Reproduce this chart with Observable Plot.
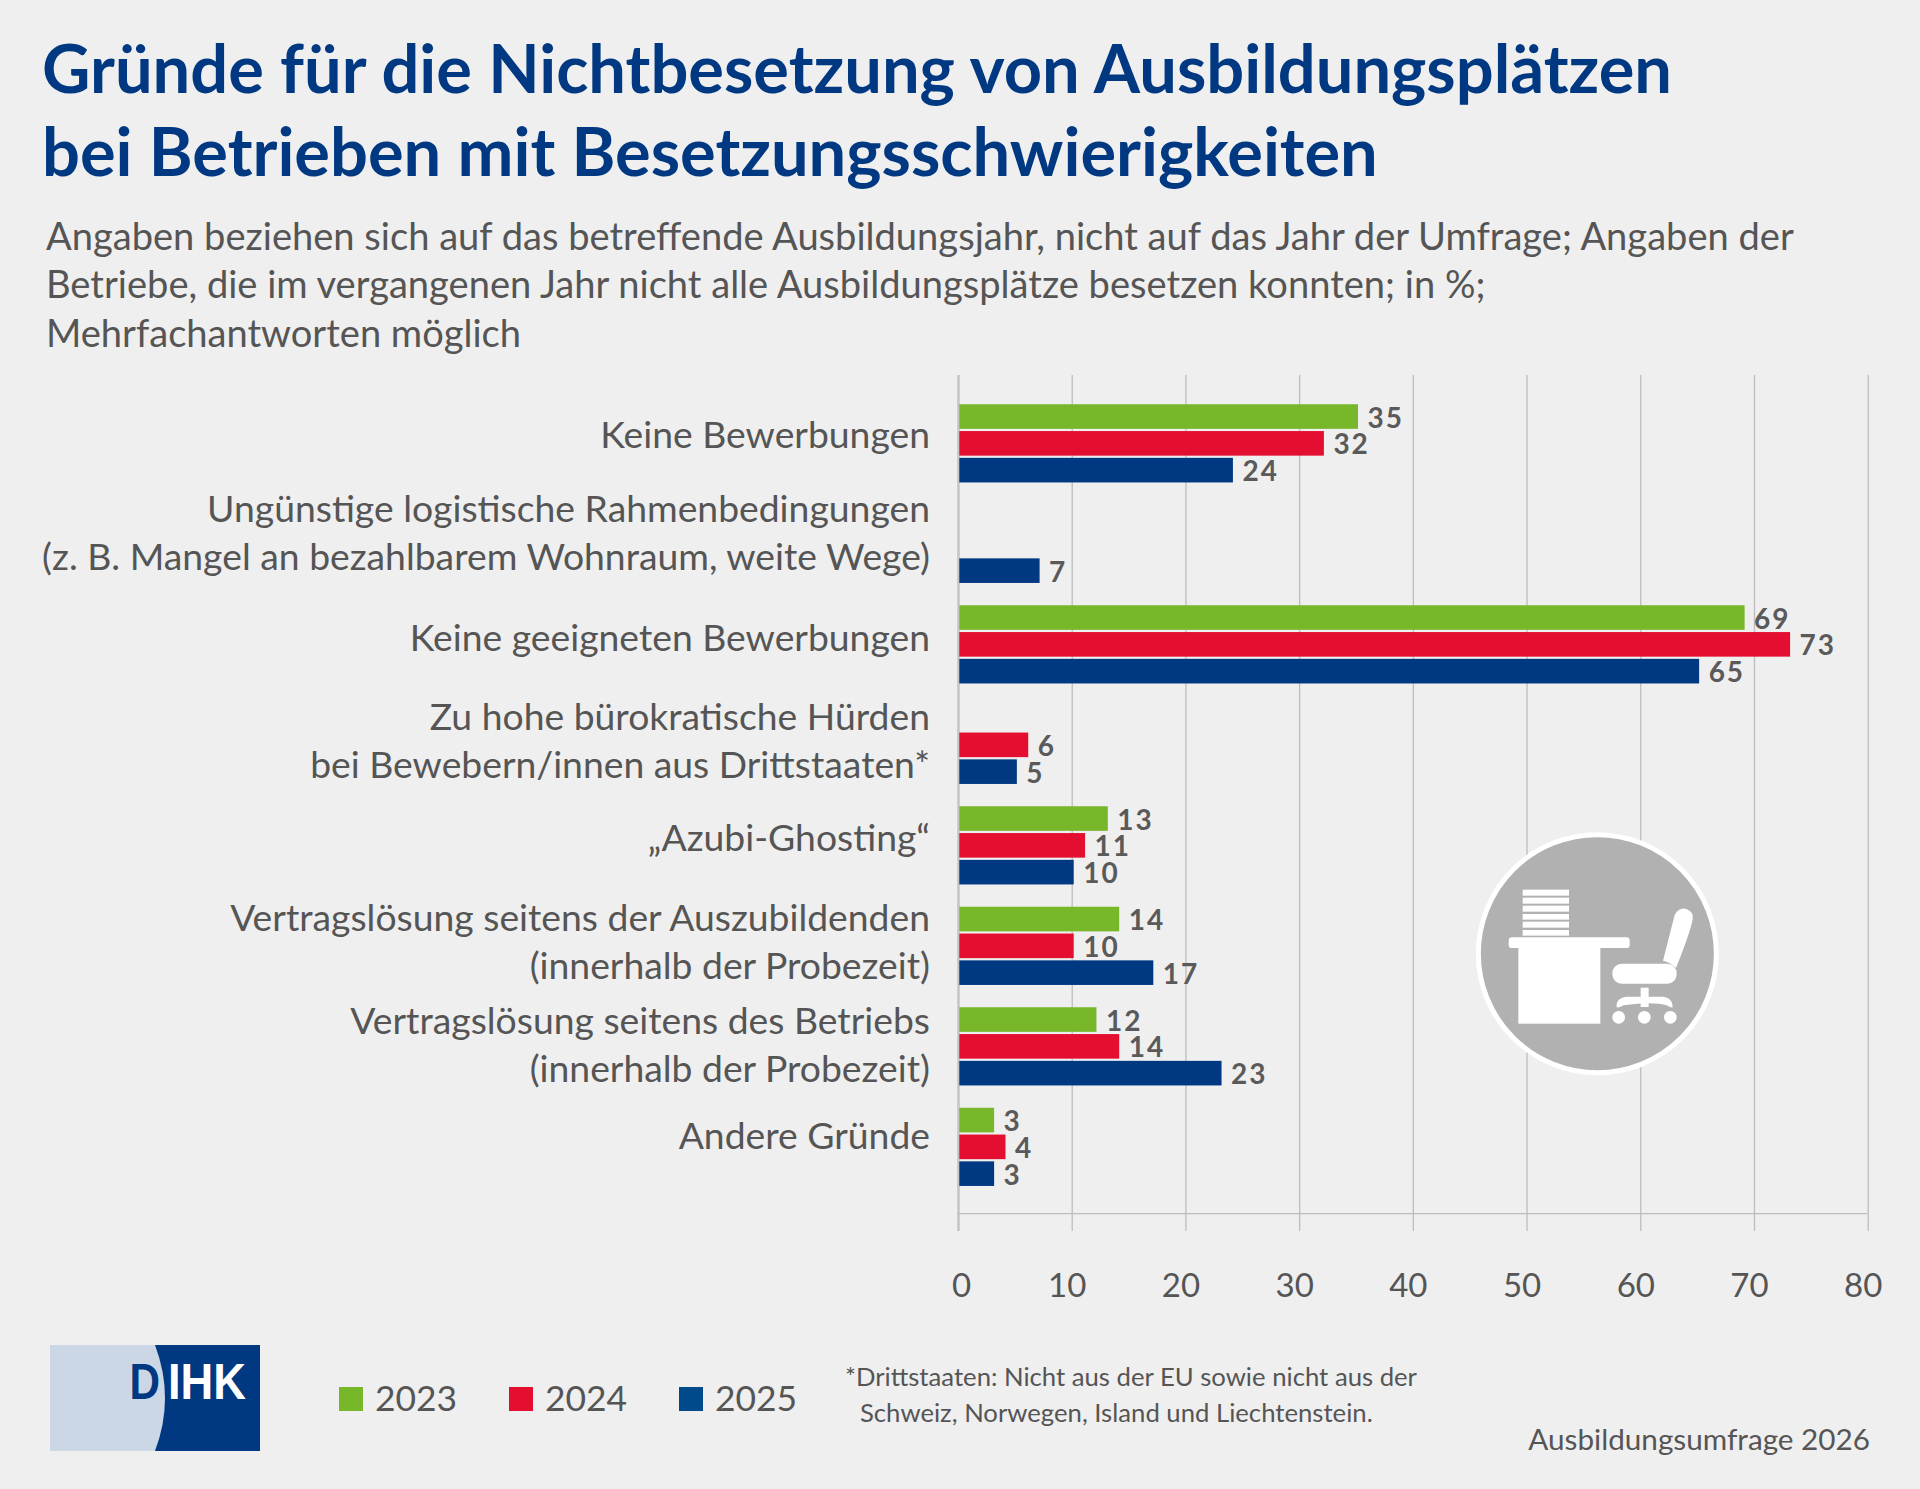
<!DOCTYPE html>
<html lang="de"><head><meta charset="utf-8">
<script src="https://cdn.jsdelivr.net/npm/d3@7"></script>
<script src="https://cdn.jsdelivr.net/npm/@observablehq/plot@0.6"></script>
<style>
html,body{margin:0;padding:0;background:#efefef;}
#page{position:relative;width:1920px;height:1489px;overflow:hidden;background:#efefef;font-family:Lato,"Noto Sans",sans-serif;color:#555;}
.t{position:absolute;white-space:nowrap;line-height:1;}
.title{left:42px;font-size:66.8px;font-weight:700;color:#003882;}
.sub{left:46px;font-size:38.1px;}
.foot{font-size:25.7px;}
.leg{font-size:35.4px;top:1380px;}
.sq{position:absolute;top:1387px;width:24px;height:24px;}
#chart{position:absolute;left:0;top:355px;}
svg.deco{position:absolute;}
</style></head><body>
<div id="page">
<div class="t title" style="top:33.5px">Gründe für die Nichtbesetzung von Ausbildungsplätzen</div>
<div class="t title" style="top:116.5px">bei Betrieben mit Besetzungsschwierigkeiten</div>
<div class="t sub" style="top:216px">Angaben beziehen sich auf das betreffende Ausbildungsjahr, nicht auf das Jahr der Umfrage; Angaben der</div>
<div class="t sub" style="top:264px">Betriebe, die im vergangenen Jahr nicht alle Ausbildungsplätze besetzen konnten; in %;</div>
<div class="t sub" style="top:313px">Mehrfachantworten möglich</div>
<div id="chart"></div>
<svg class="deco" style="left:1440px;top:800px" width="460" height="500" viewBox="0 0 1380 1500">
<circle cx="472" cy="461" r="357" fill="#b1b1b1" stroke="#fff" stroke-width="15"/>
<g fill="#fff">
<rect x="248" y="269" width="139" height="18"/><rect x="248" y="293" width="139" height="18"/><rect x="248" y="317" width="139" height="18"/><rect x="248" y="342" width="139" height="17"/><rect x="248" y="365" width="139" height="18"/><rect x="248" y="390" width="139" height="17"/>
<rect x="206" y="412" width="363" height="32" rx="10"/><rect x="235" y="440" width="246" height="231"/>
<path d="M669 482 L704 345 Q715 322 737 326 Q762 334 758 358 Q750 400 708 504 Q690 486 669 482Z"/>
<rect x="517" y="491" width="193" height="60" rx="28"/>
<rect x="602" y="563" width="24" height="58"/>
<path d="M530 622 Q526 595 560 590 L670 590 Q700 595 698 622 Q690 624 680 616 Q640 604 550 616 Q540 624 530 622Z"/>
<circle cx="536" cy="652" r="19"/><circle cx="613" cy="652" r="19"/><circle cx="691" cy="652" r="19"/>
</g></svg>
<svg class="deco" style="left:50px;top:1345px" width="210" height="106" viewBox="0 0 210 106">
<rect width="210" height="106" fill="#003882"/>
<path d="M0 0H105 Q125 53 105 106H0Z" fill="#ccd7e6"/>
<g font-family="'Liberation Sans',sans-serif" font-weight="700" font-size="50">
<text x="79.5" y="54" fill="#003882" textLength="30.5" lengthAdjust="spacingAndGlyphs">D</text>
<text x="118" y="54" fill="#fff" textLength="78" lengthAdjust="spacingAndGlyphs">IHK</text>
</g></svg>
<div class="sq" style="left:339px;background:#78b72a"></div><div class="t leg" style="left:375px">2023</div>
<div class="sq" style="left:509px;background:#e40e31"></div><div class="t leg" style="left:545px">2024</div>
<div class="sq" style="left:679px;background:#004a8c"></div><div class="t leg" style="left:715px">2025</div>
<div class="t foot" style="left:845px;top:1364px">*Drittstaaten: Nicht aus der EU sowie nicht aus der</div>
<div class="t foot" style="left:860px;top:1400px">Schweiz, Norwegen, Island und Liechtenstein.</div>
<div class="t" style="right:50px;top:1424px;font-size:29.7px">Ausbildungsumfrage 2026</div>
</div>
<script>
const categories = [
  "Keine Bewerbungen",
  "Ungünstige logistische Rahmenbedingungen\n(z. B. Mangel an bezahlbarem Wohnraum, weite Wege)",
  "Keine geeigneten Bewerbungen",
  "Zu hohe bürokratische Hürden\nbei Bewebern/innen aus Drittstaaten*",
  "„Azubi-Ghosting“",
  "Vertragslösung seitens der Auszubildenden\n(innerhalb der Probezeit)",
  "Vertragslösung seitens des Betriebs\n(innerhalb der Probezeit)",
  "Andere Gründe"
];
const years = [2023, 2024, 2025];
const values2023 = [35, null, 69, null, 13, 14, 12, 3];
const values2024 = [32, null, 73, 6, 11, 10, 14, 4];
const values2025 = [24, 7, 65, 5, 10, 17, 23, 3];
const xTicks = [0,10,20,30,40,50,60,70,80];
const colors = ["#78b72a", "#e40e31", "#003882"];
const labelNudge = [-11.5, -13.5, -9.5, -6.5, -10, -6.5, -4, -13.5];

const series = [values2023, values2024, values2025];
const gap = 26.8, barH = 24.6, step = 100.5, first = 11.15;
const FONT = 'Lato,"Noto Sans",sans-serif';
const spaced = (index, scales, values, dims, ctx, next) => {
  const g = next(index, scales, values, dims, ctx);
  g.style.letterSpacing = "2px";
  return g;
};
const marks = [
  Plot.ruleX(xTicks, {stroke:"#bdbdbd", strokeWidth:1.3}),
  Plot.ruleX([0], {stroke:"#c4c4c4", strokeWidth:2.4}),
  Plot.ruleY([categories[7]], {x1:0, x2:80, dy:66.2, stroke:"#bdbdbd", strokeWidth:1.3}),
];
series.forEach((vals,i)=>{
  const rows = categories.map((c,k)=>({c, v:vals[k]})).filter(d=>d.v!=null);
  const top = first + i*gap;
  marks.push(Plot.barX(rows,{y:"c", x1:0, x2:"v", fill:colors[i], insetTop:top, insetBottom:step-top-barH, insetLeft:1.3, insetRight:-2}));
});
series.forEach((vals,i)=>{
  const rows = categories.map((c,k)=>({c, v:vals[k]})).filter(d=>d.v!=null);
  marks.push(Plot.text(rows,{y:"c", x:"v", text:"v", dy:(i-1)*gap+1.5, dx:11, textAnchor:"start", fontSize:28, fontWeight:700, fill:"#5a5a5a", fontFamily:FONT, render:spaced}));
});
categories.forEach((c,k)=>{
  marks.push(Plot.text([c],{y:d=>d, frameAnchor:"left", dx:-28.5, dy:labelNudge[k], text:d=>d, textAnchor:"end", fontSize:37.3, lineHeight:1.29, fill:"#555", fontFamily:FONT}));
});
marks.push(Plot.axisX({ticks:xTicks.slice(1), tickSize:0, tickPadding:42, anchor:"bottom", dx:-5, fontSize:33, fill:"#555", fontFamily:FONT, label:null, tickFormat:d=>String(d)}));
marks.push(Plot.axisX({ticks:xTicks.slice(0,1), tickSize:0, tickPadding:42, anchor:"bottom", dx:3, fontSize:33, fill:"#555", fontFamily:FONT, label:null, tickFormat:d=>String(d)}));
const chart = Plot.plot({
  width:1920, height:960,
  marginTop:20, marginBottom:84, marginLeft:958, marginRight:52.3,
  style:{background:"transparent", overflow:"visible"},
  x:{domain:[0,80], axis:null},
  y:{type:"band", domain:categories, range:[38.1,842.1], padding:0, round:false, axis:null},
  marks
});
document.getElementById("chart").appendChild(chart);
</script>
</body></html>
